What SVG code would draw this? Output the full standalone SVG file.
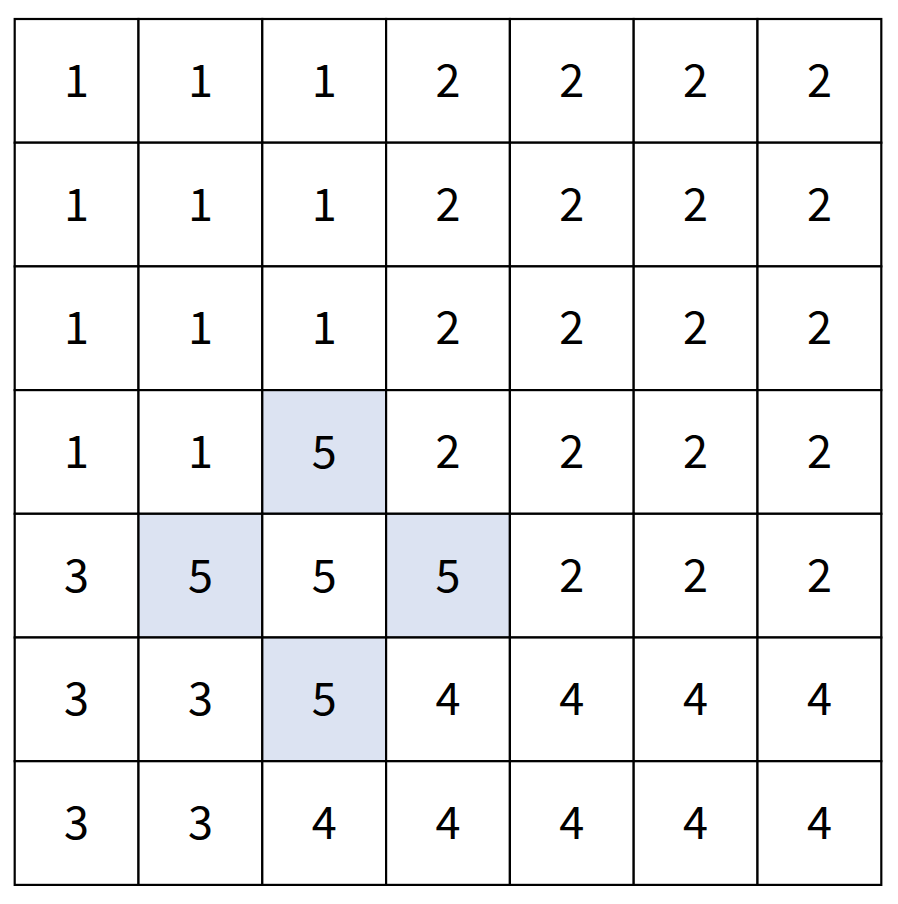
<svg xmlns="http://www.w3.org/2000/svg" width="898" height="904" viewBox="0 0 898 904">
<style>
.c{fill:#ffffff;stroke:#000;stroke-width:2.2}
.h{fill:#dce3f2;stroke:#000;stroke-width:2.2}
text{font-family:"Noto Sans CJK SC","Noto Sans",sans-serif;font-size:45px;fill:#000;text-anchor:middle;dominant-baseline:central}
</style>
<rect width="898" height="904" fill="#fff"/>
<g id="grid">
<g id="r0">
<g id="c0-0"><rect class="c" x="14.7" y="19" width="123.8" height="123.7"/><text x="76.6" y="77.4">1</text></g>
<g id="c0-1"><rect class="c" x="138.5" y="19" width="123.8" height="123.7"/><text x="200.4" y="77.4">1</text></g>
<g id="c0-2"><rect class="c" x="262.3" y="19" width="123.8" height="123.7"/><text x="324.2" y="77.4">1</text></g>
<g id="c0-3"><rect class="c" x="386.1" y="19" width="123.8" height="123.7"/><text x="448" y="77.4">2</text></g>
<g id="c0-4"><rect class="c" x="509.9" y="19" width="123.8" height="123.7"/><text x="571.8" y="77.4">2</text></g>
<g id="c0-5"><rect class="c" x="633.7" y="19" width="123.8" height="123.7"/><text x="695.6" y="77.4">2</text></g>
<g id="c0-6"><rect class="c" x="757.5" y="19" width="123.8" height="123.7"/><text x="819.4" y="77.4">2</text></g>
</g>
<g id="r1">
<g id="c1-0"><rect class="c" x="14.7" y="142.7" width="123.8" height="123.7"/><text x="76.6" y="201.1">1</text></g>
<g id="c1-1"><rect class="c" x="138.5" y="142.7" width="123.8" height="123.7"/><text x="200.4" y="201.1">1</text></g>
<g id="c1-2"><rect class="c" x="262.3" y="142.7" width="123.8" height="123.7"/><text x="324.2" y="201.1">1</text></g>
<g id="c1-3"><rect class="c" x="386.1" y="142.7" width="123.8" height="123.7"/><text x="448" y="201.1">2</text></g>
<g id="c1-4"><rect class="c" x="509.9" y="142.7" width="123.8" height="123.7"/><text x="571.8" y="201.1">2</text></g>
<g id="c1-5"><rect class="c" x="633.7" y="142.7" width="123.8" height="123.7"/><text x="695.6" y="201.1">2</text></g>
<g id="c1-6"><rect class="c" x="757.5" y="142.7" width="123.8" height="123.7"/><text x="819.4" y="201.1">2</text></g>
</g>
<g id="r2">
<g id="c2-0"><rect class="c" x="14.7" y="266.4" width="123.8" height="123.7"/><text x="76.6" y="324.8">1</text></g>
<g id="c2-1"><rect class="c" x="138.5" y="266.4" width="123.8" height="123.7"/><text x="200.4" y="324.8">1</text></g>
<g id="c2-2"><rect class="c" x="262.3" y="266.4" width="123.8" height="123.7"/><text x="324.2" y="324.8">1</text></g>
<g id="c2-3"><rect class="c" x="386.1" y="266.4" width="123.8" height="123.7"/><text x="448" y="324.8">2</text></g>
<g id="c2-4"><rect class="c" x="509.9" y="266.4" width="123.8" height="123.7"/><text x="571.8" y="324.8">2</text></g>
<g id="c2-5"><rect class="c" x="633.7" y="266.4" width="123.8" height="123.7"/><text x="695.6" y="324.8">2</text></g>
<g id="c2-6"><rect class="c" x="757.5" y="266.4" width="123.8" height="123.7"/><text x="819.4" y="324.8">2</text></g>
</g>
<g id="r3">
<g id="c3-0"><rect class="c" x="14.7" y="390.1" width="123.8" height="123.7"/><text x="76.6" y="448.5">1</text></g>
<g id="c3-1"><rect class="c" x="138.5" y="390.1" width="123.8" height="123.7"/><text x="200.4" y="448.5">1</text></g>
<g id="c3-2"><rect class="h" x="262.3" y="390.1" width="123.8" height="123.7"/><text x="324.2" y="448.5">5</text></g>
<g id="c3-3"><rect class="c" x="386.1" y="390.1" width="123.8" height="123.7"/><text x="448" y="448.5">2</text></g>
<g id="c3-4"><rect class="c" x="509.9" y="390.1" width="123.8" height="123.7"/><text x="571.8" y="448.5">2</text></g>
<g id="c3-5"><rect class="c" x="633.7" y="390.1" width="123.8" height="123.7"/><text x="695.6" y="448.5">2</text></g>
<g id="c3-6"><rect class="c" x="757.5" y="390.1" width="123.8" height="123.7"/><text x="819.4" y="448.5">2</text></g>
</g>
<g id="r4">
<g id="c4-0"><rect class="c" x="14.7" y="513.8" width="123.8" height="123.7"/><text x="76.6" y="572.2">3</text></g>
<g id="c4-1"><rect class="h" x="138.5" y="513.8" width="123.8" height="123.7"/><text x="200.4" y="572.2">5</text></g>
<g id="c4-2"><rect class="c" x="262.3" y="513.8" width="123.8" height="123.7"/><text x="324.2" y="572.2">5</text></g>
<g id="c4-3"><rect class="h" x="386.1" y="513.8" width="123.8" height="123.7"/><text x="448" y="572.2">5</text></g>
<g id="c4-4"><rect class="c" x="509.9" y="513.8" width="123.8" height="123.7"/><text x="571.8" y="572.2">2</text></g>
<g id="c4-5"><rect class="c" x="633.7" y="513.8" width="123.8" height="123.7"/><text x="695.6" y="572.2">2</text></g>
<g id="c4-6"><rect class="c" x="757.5" y="513.8" width="123.8" height="123.7"/><text x="819.4" y="572.2">2</text></g>
</g>
<g id="r5">
<g id="c5-0"><rect class="c" x="14.7" y="637.5" width="123.8" height="123.7"/><text x="76.6" y="695.9">3</text></g>
<g id="c5-1"><rect class="c" x="138.5" y="637.5" width="123.8" height="123.7"/><text x="200.4" y="695.9">3</text></g>
<g id="c5-2"><rect class="h" x="262.3" y="637.5" width="123.8" height="123.7"/><text x="324.2" y="695.9">5</text></g>
<g id="c5-3"><rect class="c" x="386.1" y="637.5" width="123.8" height="123.7"/><text x="448" y="695.9">4</text></g>
<g id="c5-4"><rect class="c" x="509.9" y="637.5" width="123.8" height="123.7"/><text x="571.8" y="695.9">4</text></g>
<g id="c5-5"><rect class="c" x="633.7" y="637.5" width="123.8" height="123.7"/><text x="695.6" y="695.9">4</text></g>
<g id="c5-6"><rect class="c" x="757.5" y="637.5" width="123.8" height="123.7"/><text x="819.4" y="695.9">4</text></g>
</g>
<g id="r6">
<g id="c6-0"><rect class="c" x="14.7" y="761.2" width="123.8" height="123.7"/><text x="76.6" y="819.6">3</text></g>
<g id="c6-1"><rect class="c" x="138.5" y="761.2" width="123.8" height="123.7"/><text x="200.4" y="819.6">3</text></g>
<g id="c6-2"><rect class="c" x="262.3" y="761.2" width="123.8" height="123.7"/><text x="324.2" y="819.6">4</text></g>
<g id="c6-3"><rect class="c" x="386.1" y="761.2" width="123.8" height="123.7"/><text x="448" y="819.6">4</text></g>
<g id="c6-4"><rect class="c" x="509.9" y="761.2" width="123.8" height="123.7"/><text x="571.8" y="819.6">4</text></g>
<g id="c6-5"><rect class="c" x="633.7" y="761.2" width="123.8" height="123.7"/><text x="695.6" y="819.6">4</text></g>
<g id="c6-6"><rect class="c" x="757.5" y="761.2" width="123.8" height="123.7"/><text x="819.4" y="819.6">4</text></g>
</g>
</g>
<g id="connectors"></g>
</svg>
